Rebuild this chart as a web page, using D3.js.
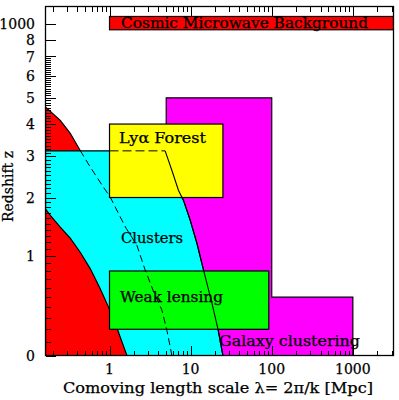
<!DOCTYPE html>
<html><head><meta charset="utf-8">
<script src="https://cdn.jsdelivr.net/npm/d3@7"></script>
<style>body{margin:0;background:#fff}text{font-family:"DejaVu Serif",serif;font-size:14px;fill:#000;stroke:#000;stroke-width:0.25px}</style>
</head><body>
<svg id="c" width="399" height="400"></svg>
<script>
// ---- data (lambda in Mpc, redshift z) ----
const xDomain = [0.1625, 3170];
const uTop = 1.054;                  // top of y axis, in log10(1+z)
const yTickZ = [0, 1, 2, 3, 4, 5, 6, 7, 8];
const cmbTickLabel = "1000";
const xTickLabels = [1, 10, 100, 1000];

// upper red boundary (dashed inside cyan)
const curveDashed = [[0.1625,4.63],[0.247,4.13],[0.328,3.69],[0.435,3.16],[0.578,2.71],[0.836,2.23],[1.02,2.01],[1.355,1.62],[1.607,1.42],[2.178,1.15],[2.755,0.81],[3.457,0.57],[4.43,0.37],[5.10,0.19],[5.88,0]];
// lower red boundary
const curveRed = [[0.1625,1.77],[0.186,1.65],[0.247,1.44],[0.328,1.26],[0.435,1.05],[0.578,0.83],[0.768,0.59],[0.972,0.40],[1.234,0.21],[1.639,0]];
// clusters right boundary
const clustersTopZ = 3.15;
const curveClusters = [[4.85,3.15],[5.88,2.62],[7.09,2.15],[8.17,1.94],[9.89,1.56],[11.96,1.18],[14.43,0.81],[18.31,0.44],[21.9,0.19],[25.0,0]];
// galaxy clustering step outline
const galaxyOutline = [[5,0],[5,5],[100,5],[100,0.5],[1000,0.5],[1000,0]];
const lyaBox = {x: [1, 25], z: [2, 4]};
const weakBox = {x: [1, 92], z: [0.2, 0.8]};
const cmbBox = {x: [1, 3170], z: [920, 1130]};

// ---- scales ----
const svg = d3.select("#c");
const L = 45.5, R = 393.5, T = 6.5, B = 355.5;
const x = d3.scaleLog().domain(xDomain).range([L, R]);
const u = d3.scaleLinear().domain([0, uTop]).range([B, T]);
const yz = z => z >= 100 ? u(1 + 0.45 * Math.log10(z / 1000)) : u(Math.log10(1 + z));
const line = d3.line().x(d => x(d[0])).y(d => yz(d[1]));

const clip = svg.append("clipPath").attr("id", "clip").append("rect")
  .attr("x", L).attr("y", T).attr("width", R - L).attr("height", B - T);
const g = svg.append("g").attr("clip-path", "url(#clip)");
const sty = (sel, fill) => sel.attr("fill", fill).attr("stroke", "#000").attr("stroke-width", 1.2);

// galaxy clustering (magenta)
sty(g.append("path").attr("d", line(galaxyOutline) + "Z"), "#ff00ff");
// upper red region
sty(g.append("path").attr("d", line([[xDomain[0], 0]].concat(curveDashed)) + "Z"), "#ff0000");
// clusters (cyan)
sty(g.append("path").attr("d", line([[xDomain[0], 0], [xDomain[0], clustersTopZ]].concat(curveClusters)) + "Z"), "#00ffff");
// lower red region
sty(g.append("path").attr("d", line([[xDomain[0], 0]].concat(curveRed)) + "Z"), "#ff0000");
// boxes
function box(b, fill) {
  sty(g.append("rect").attr("x", x(b.x[0])).attr("y", yz(b.z[1]))
    .attr("width", x(b.x[1]) - x(b.x[0])).attr("height", yz(b.z[0]) - yz(b.z[1])), fill);
}
box(lyaBox, "#ffff00");
box(weakBox, "#00ff00");
box(cmbBox, "#ff0000");

// dashed continuation of the red boundary inside the cyan region
const dashedPart = curveDashed.filter(d => d[1] <= clustersTopZ + 0.02);
g.append("path").attr("d", line(dashedPart)).attr("fill", "none").attr("stroke", "#000")
  .attr("stroke-width", 1).attr("stroke-dasharray", "7,4");
// dashed top of cluster region over the Lya box
g.append("path").attr("d", line([[lyaBox.x[0], clustersTopZ], curveClusters[0]])).attr("fill", "none")
  .attr("stroke", "#000").attr("stroke-width", 1).attr("stroke-dasharray", "9,4");
// solid clusters boundary on top
g.append("path").attr("d", line(curveClusters)).attr("fill", "none").attr("stroke", "#000").attr("stroke-width", 1.1);

// ---- frame and ticks ----
svg.append("rect").attr("x", L).attr("y", T).attr("width", R - L).attr("height", B - T)
  .attr("fill", "none").attr("stroke", "#000").attr("stroke-width", 1.3);
const tk = svg.append("g").attr("stroke", "#000").attr("stroke-width", 1).attr("shape-rendering", "crispEdges");
x.ticks().forEach(v => {
  const major = xTickLabels.includes(v);
  const len = major ? 10 : 5, px = Math.round(x(v)) + 0.5;
  tk.append("line").attr("x1", px).attr("x2", px).attr("y1", B).attr("y2", B - len);
  tk.append("line").attr("x1", px).attr("x2", px).attr("y1", T).attr("y2", T + len);
});
d3.range(1, 70).forEach(i => {
  const z = i / 10; if (i % 10 === 0) return;
  const py = Math.round(yz(z)) + 0.5;
  tk.append("line").attr("x1", L).attr("x2", L + 5).attr("y1", py).attr("y2", py);
});
yTickZ.forEach(z => {
  const py = Math.round(yz(z)) + 0.5;
  tk.append("line").attr("x1", L).attr("x2", L + 10).attr("y1", py).attr("y2", py);
});
tk.append("line").attr("x1", L).attr("x2", L + 10).attr("y1", Math.round(u(1)) + 0.5).attr("y2", Math.round(u(1)) + 0.5);

// tick labels
yTickZ.forEach(z => svg.append("text").attr("x", 35).attr("y", yz(z)).attr("dy", "0.36em")
  .attr("text-anchor", "end").text(z));
svg.append("text").attr("x", 35).attr("y", u(1)).attr("dy", "0.36em").attr("text-anchor", "end").text(cmbTickLabel);
xTickLabels.forEach(v => svg.append("text").attr("x", x(v)).attr("y", 374).attr("text-anchor", "middle").text(v));

// axis titles
svg.append("text").attr("x", 63).attr("y", 393).attr("textLength", 310).attr("lengthAdjust", "spacingAndGlyphs")
  .text("Comoving length scale λ= 2π/k [Mpc]");
svg.append("text").attr("transform", "translate(13,222) rotate(-90)").attr("textLength", 71)
  .attr("lengthAdjust", "spacingAndGlyphs").text("Redshift z");

// region labels
const lab = (t, px, py, w) => svg.append("text").attr("x", px).attr("y", py).attr("textLength", w)
  .attr("lengthAdjust", "spacingAndGlyphs").text(t);
lab("Cosmic Microwave Background", 121, 28, 247);
lab("Lyα Forest", 119, 143, 87);
lab("Clusters", 121, 243, 62);
lab("Weak lensing", 120, 302, 103);
lab("Galaxy clustering", 219, 346, 141);
</script>
</body></html>
